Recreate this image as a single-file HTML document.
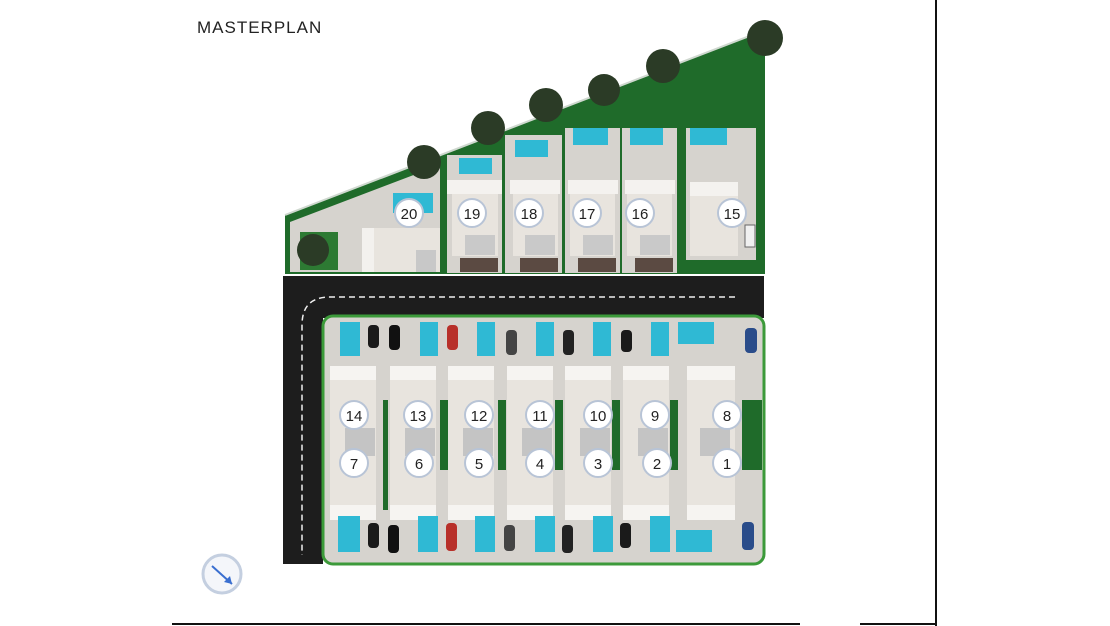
<!DOCTYPE html>
<html><head><meta charset="utf-8"><style>
html,body{margin:0;padding:0;background:#fff;width:1110px;height:626px;overflow:hidden}
svg{display:block}
text{font-family:"Liberation Sans",sans-serif}
.n{font-size:15px;fill:#222;text-anchor:middle}
</style></head><body>
<svg width="1110" height="626" viewBox="0 0 1110 626">
<rect width="1110" height="626" fill="#fff"/>
<text x="197" y="33" font-size="17" fill="#222" letter-spacing="1">MASTERPLAN</text>
<line x1="936" y1="0" x2="936" y2="626" stroke="#111" stroke-width="2"/>
<line x1="172" y1="624" x2="800" y2="624" stroke="#111" stroke-width="2"/>
<line x1="860" y1="624" x2="936" y2="624" stroke="#111" stroke-width="2"/>

<!-- top green triangle -->
<polygon points="285,215 765,30 765,274 285,274" fill="#1f6b2a"/>
<polyline points="285,215 765,30" stroke="#cfd8cf" stroke-width="2" fill="none"/>
<!-- plot 20 -->
<polygon points="290,222 440,165 440,272 290,272" fill="#d6d3ce"/>
<rect x="300" y="232" width="38" height="38" fill="#2d7a33"/>
<rect x="362" y="228" width="78" height="44" fill="#e8e4de"/>
<rect x="362" y="228" width="12" height="44" fill="#f3f1ee"/>
<rect x="416" y="250" width="20" height="22" fill="#c8c8c8"/>
<rect x="393" y="193" width="40" height="20" fill="#2fb9d4"/>
<!-- top plots -->
<g>
<rect x="447" y="155" width="55" height="118" fill="#d6d3ce"/>
<rect x="459" y="158" width="33" height="16" fill="#2fb9d4"/>
<rect x="447" y="180" width="55" height="14" fill="#f4f2ef"/>
<rect x="452" y="194" width="46" height="62" fill="#e8e4de"/>
<rect x="465" y="235" width="30" height="20" fill="#c9c9c9"/>
<rect x="460" y="258" width="38" height="14" fill="#5b4a42"/>

<rect x="505" y="135" width="57" height="138" fill="#d6d3ce"/>
<rect x="515" y="140" width="33" height="17" fill="#2fb9d4"/>
<rect x="510" y="180" width="50" height="14" fill="#f4f2ef"/>
<rect x="513" y="194" width="45" height="62" fill="#e8e4de"/>
<rect x="525" y="235" width="30" height="20" fill="#c9c9c9"/>
<rect x="520" y="258" width="38" height="14" fill="#5b4a42"/>

<rect x="565" y="128" width="55" height="145" fill="#d6d3ce"/>
<rect x="573" y="128" width="35" height="17" fill="#2fb9d4"/>
<rect x="568" y="180" width="50" height="14" fill="#f4f2ef"/>
<rect x="570" y="194" width="45" height="62" fill="#e8e4de"/>
<rect x="583" y="235" width="30" height="20" fill="#c9c9c9"/>
<rect x="578" y="258" width="38" height="14" fill="#5b4a42"/>

<rect x="622" y="128" width="55" height="145" fill="#d6d3ce"/>
<rect x="630" y="128" width="33" height="17" fill="#2fb9d4"/>
<rect x="625" y="180" width="50" height="14" fill="#f4f2ef"/>
<rect x="627" y="194" width="45" height="62" fill="#e8e4de"/>
<rect x="640" y="235" width="30" height="20" fill="#c9c9c9"/>
<rect x="635" y="258" width="38" height="14" fill="#5b4a42"/>

<rect x="686" y="128" width="70" height="132" fill="#d6d3ce"/>
<rect x="690" y="128" width="37" height="17" fill="#2fb9d4"/>
<rect x="690" y="182" width="48" height="14" fill="#f4f2ef"/>
<rect x="690" y="196" width="48" height="60" fill="#e8e4de"/>
<rect x="745" y="225" width="10" height="22" fill="#f0f0f0" stroke="#666"/>
</g>
<!-- palms -->
<g fill="#2b3b26">
<circle cx="424" cy="162" r="17"/><circle cx="488" cy="128" r="17"/><circle cx="546" cy="105" r="17"/>
<circle cx="604" cy="90" r="16"/><circle cx="663" cy="66" r="17"/><circle cx="765" cy="38" r="18"/><circle cx="313" cy="250" r="16"/>
</g>
<!-- road -->
<rect x="283" y="276" width="481" height="42" fill="#1d1d1d"/>
<rect x="283" y="276" width="40" height="288" fill="#1d1d1d"/>
<path d="M735,297 L330,297 Q302,297 302,325 L302,555" stroke="#eee" stroke-width="1.5" stroke-dasharray="6,4" fill="none"/>
<!-- bottom block -->
<rect x="323" y="316" width="441" height="248" rx="10" fill="#d6d3ce"/>
<rect x="323" y="316" width="441" height="248" rx="10" fill="none" stroke="#3c9a3a" stroke-width="3"/>
<g fill="#1f6b2a">
<rect x="383" y="400" width="5" height="110"/><rect x="440" y="400" width="8" height="70"/><rect x="498" y="400" width="8" height="70"/>
<rect x="555" y="400" width="8" height="70"/><rect x="612" y="400" width="8" height="70"/><rect x="670" y="400" width="8" height="70"/>
<rect x="742" y="400" width="20" height="70"/>
</g>
<g fill="#e8e4de">
<rect x="330" y="366" width="46" height="154"/><rect x="390" y="366" width="46" height="154"/><rect x="448" y="366" width="46" height="154"/>
<rect x="507" y="366" width="46" height="154"/><rect x="565" y="366" width="46" height="154"/><rect x="623" y="366" width="46" height="154"/>
<rect x="687" y="366" width="48" height="154"/>
</g>
<g fill="#f6f4f1">
<rect x="330" y="366" width="46" height="14"/><rect x="390" y="366" width="46" height="14"/><rect x="448" y="366" width="46" height="14"/>
<rect x="507" y="366" width="46" height="14"/><rect x="565" y="366" width="46" height="14"/><rect x="623" y="366" width="46" height="14"/>
<rect x="687" y="366" width="48" height="14"/>
<rect x="330" y="505" width="46" height="15"/><rect x="390" y="505" width="46" height="15"/><rect x="448" y="505" width="46" height="15"/>
<rect x="507" y="505" width="46" height="15"/><rect x="565" y="505" width="46" height="15"/><rect x="623" y="505" width="46" height="15"/>
<rect x="687" y="505" width="48" height="15"/>
</g>
<g fill="#c4c4c4">
<rect x="345" y="428" width="30" height="28"/><rect x="405" y="428" width="30" height="28"/><rect x="463" y="428" width="30" height="28"/>
<rect x="522" y="428" width="30" height="28"/><rect x="580" y="428" width="30" height="28"/><rect x="638" y="428" width="30" height="28"/>
<rect x="700" y="428" width="30" height="28"/>
</g>
<!-- pools -->
<g fill="#2fb9d4">
<rect x="340" y="322" width="20" height="34"/><rect x="420" y="322" width="18" height="34"/><rect x="477" y="322" width="18" height="34"/>
<rect x="536" y="322" width="18" height="34"/><rect x="593" y="322" width="18" height="34"/><rect x="651" y="322" width="18" height="34"/>
<rect x="678" y="322" width="36" height="22"/>
<rect x="338" y="516" width="22" height="36"/><rect x="418" y="516" width="20" height="36"/><rect x="475" y="516" width="20" height="36"/>
<rect x="535" y="516" width="20" height="36"/><rect x="593" y="516" width="20" height="36"/><rect x="650" y="516" width="20" height="36"/>
<rect x="676" y="530" width="36" height="22"/>
</g>
<!-- cars -->
<g>
<rect x="368" y="325" width="11" height="23" rx="4" fill="#1a1a1a"/><rect x="389" y="325" width="11" height="25" rx="4" fill="#111"/>
<rect x="447" y="325" width="11" height="25" rx="4" fill="#b8302a"/><rect x="506" y="330" width="11" height="25" rx="4" fill="#444"/>
<rect x="563" y="330" width="11" height="25" rx="4" fill="#222"/><rect x="621" y="330" width="11" height="22" rx="4" fill="#1a1a1a"/>
<rect x="745" y="328" width="12" height="25" rx="4" fill="#2a4c8a"/>
<rect x="368" y="523" width="11" height="25" rx="4" fill="#1a1a1a"/><rect x="388" y="525" width="11" height="28" rx="4" fill="#111"/>
<rect x="446" y="523" width="11" height="28" rx="4" fill="#b8302a"/><rect x="504" y="525" width="11" height="26" rx="4" fill="#444"/>
<rect x="562" y="525" width="11" height="28" rx="4" fill="#222"/><rect x="620" y="523" width="11" height="25" rx="4" fill="#1a1a1a"/>
<rect x="742" y="522" width="12" height="28" rx="4" fill="#2a4c8a"/>
</g>
<!-- labels -->
<g fill="#fff" stroke="#b8c4d6" stroke-width="2">
<circle cx="409" cy="213" r="14"/><circle cx="472" cy="213" r="14"/><circle cx="529" cy="213" r="14"/><circle cx="587" cy="213" r="14"/><circle cx="640" cy="213" r="14"/><circle cx="732" cy="213" r="14"/>
<circle cx="354" cy="415" r="14"/><circle cx="418" cy="415" r="14"/><circle cx="479" cy="415" r="14"/><circle cx="540" cy="415" r="14"/><circle cx="598" cy="415" r="14"/><circle cx="655" cy="415" r="14"/><circle cx="727" cy="415" r="14"/>
<circle cx="354" cy="463" r="14"/><circle cx="419" cy="463" r="14"/><circle cx="479" cy="463" r="14"/><circle cx="540" cy="463" r="14"/><circle cx="598" cy="463" r="14"/><circle cx="657" cy="463" r="14"/><circle cx="727" cy="463" r="14"/>
</g>
<g class="n">
<text class="n" x="409" y="219">20</text><text class="n" x="472" y="219">19</text><text class="n" x="529" y="219">18</text><text class="n" x="587" y="219">17</text><text class="n" x="640" y="219">16</text><text class="n" x="732" y="219">15</text>
<text class="n" x="354" y="421">14</text><text class="n" x="418" y="421">13</text><text class="n" x="479" y="421">12</text><text class="n" x="540" y="421">11</text><text class="n" x="598" y="421">10</text><text class="n" x="655" y="421">9</text><text class="n" x="727" y="421">8</text>
<text class="n" x="354" y="469">7</text><text class="n" x="419" y="469">6</text><text class="n" x="479" y="469">5</text><text class="n" x="540" y="469">4</text><text class="n" x="598" y="469">3</text><text class="n" x="657" y="469">2</text><text class="n" x="727" y="469">1</text>
</g>
<!-- compass -->
<circle cx="222" cy="574" r="19" fill="#f4f6fa" stroke="#c4cfe0" stroke-width="3"/>
<path d="M212,566 L232,584" stroke="#3a6fd0" stroke-width="2"/>
<polygon points="232,584 224,582 230,576" fill="#3a6fd0"/>
</svg>
</body></html>
